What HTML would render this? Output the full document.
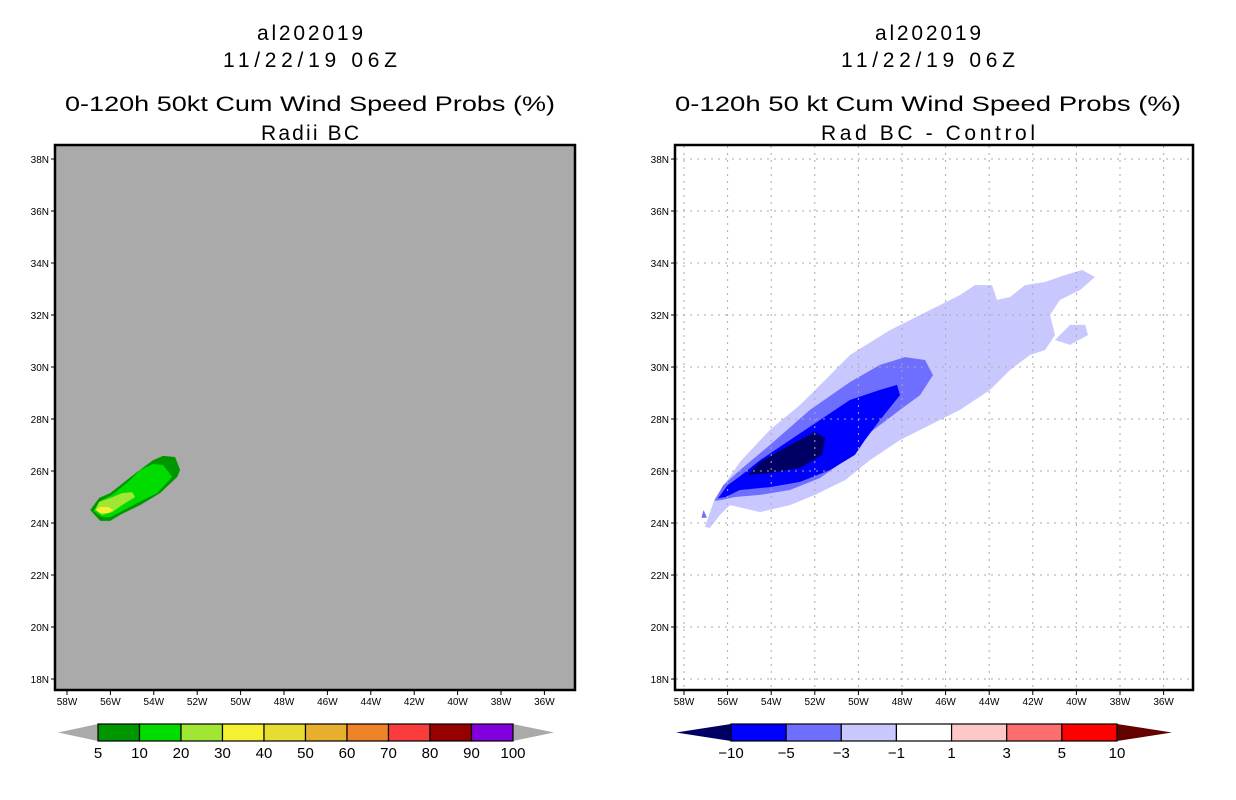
<!DOCTYPE html>
<html><head><meta charset="utf-8"><style>
html,body{margin:0;padding:0;background:#fff;}
svg{display:block;font-family:"Liberation Sans",sans-serif;}
</style></head><body>
<svg id="chart" width="1236" height="800" viewBox="0 0 1236 800">
  <g font-size="21" text-anchor="middle">
    <text x="310" y="40" textLength="106">al202019</text>
    <text x="310" y="67" textLength="174">11/22/19 06Z</text>
    <text x="310" y="111" textLength="490" lengthAdjust="spacingAndGlyphs">0-120h 50kt Cum Wind Speed Probs (%)</text>
    <text x="310" y="140" textLength="98">Radii BC</text>
  </g>
  <g font-size="21" text-anchor="middle">
    <text x="928" y="40" textLength="106">al202019</text>
    <text x="928" y="67" textLength="174">11/22/19 06Z</text>
    <text x="928" y="111" textLength="506" lengthAdjust="spacingAndGlyphs">0-120h 50 kt Cum Wind Speed Probs (%)</text>
    <text x="928" y="140" textLength="214">Rad BC - Control</text>
  </g>
  <g id="left"></g>
  <g id="right"></g>
  <g id="cbl"></g>
  <g id="cbr"></g>
</svg>
<script>
const NS="http://www.w3.org/2000/svg";
const lonTicks=[58,56,54,52,50,48,46,44,42,40,38,36];
const latTicks=[38,36,34,32,30,28,26,24,22,20,18];
const probDark=[[-56.93,24.5],[-56.52,24.96],[-56.01,25.15],[-54.77,25.96],[-54.03,26.42],[-53.57,26.58],[-53.02,26.54],[-52.79,26.04],[-52.92,25.77],[-53.71,25.15],[-54.63,24.69],[-55.55,24.31],[-56.01,24.08],[-56.47,24.08]];
const probGreen=[[-56.79,24.46],[-56.47,24.85],[-55.92,25.08],[-55.09,25.65],[-54.63,26.04],[-54.03,26.27],[-53.57,26.23],[-53.15,25.77],[-53.85,25.15],[-54.77,24.77],[-55.55,24.42],[-56.01,24.23],[-56.38,24.23]];
const probLight=[[-56.7,24.5],[-56.52,24.81],[-56.01,24.96],[-55.46,25.15],[-55.0,25.19],[-54.86,25.0],[-55.46,24.69],[-55.92,24.42],[-56.38,24.31]];
const probYellow=[[-56.66,24.5],[-56.47,24.62],[-56.1,24.62],[-55.87,24.5],[-56.1,24.38],[-56.47,24.38]];
const diffLight=[[-57.04,23.85],[-56.58,24.96],[-55.43,26.35],[-54.06,27.58],[-52.68,28.54],[-51.3,29.69],[-50.39,30.46],[-48.55,31.42],[-46.72,32.19],[-45.34,32.77],[-44.65,33.15],[-43.87,33.15],[-43.64,32.58],[-43.05,32.69],[-42.36,33.15],[-41.44,33.27],[-40.52,33.54],[-39.74,33.73],[-39.15,33.46],[-39.83,32.96],[-40.75,32.58],[-41.21,32.0],[-40.98,31.23],[-41.44,30.65],[-42.13,30.46],[-43.05,29.88],[-43.96,29.12],[-45.34,28.35],[-46.72,27.77],[-48.09,27.19],[-49.47,26.42],[-50.61,25.65],[-51.99,25.08],[-53.14,24.69],[-54.51,24.42],[-55.89,24.69],[-56.35,24.31],[-56.81,23.81]];
const diffLight2=[[-40.98,31.04],[-40.29,31.62],[-39.6,31.62],[-39.47,31.23],[-40.29,30.85]];
const diffMed=[[-56.6,24.85],[-56.2,25.45],[-55.43,26.04],[-54.06,27.0],[-52.22,28.35],[-50.39,29.42],[-49.01,30.08],[-47.86,30.38],[-46.94,30.27],[-46.58,29.69],[-47.17,28.92],[-48.09,28.35],[-49.01,27.77],[-49.93,27.19],[-50.61,26.42],[-51.76,25.73],[-53.14,25.27],[-54.51,25.08],[-55.66,25.0],[-56.2,24.9]];
const diffBlue=[[-56.44,24.95],[-56.0,25.45],[-55.43,25.8],[-54.51,26.42],[-53.14,27.19],[-51.76,27.96],[-50.39,28.73],[-49.01,29.12],[-48.23,29.31],[-48.09,28.92],[-49.01,27.96],[-49.7,27.19],[-50.16,26.62],[-51.3,26.04],[-52.68,25.58],[-54.06,25.38],[-55.43,25.27],[-56.1,25.0]];
const diffNavy=[[-55.06,25.85],[-54.51,26.35],[-53.14,27.0],[-51.99,27.5],[-51.53,27.27],[-51.67,26.62],[-52.68,26.12],[-54.06,25.92]];
const diffSmall=[[-57.1,24.5],[-56.95,24.2],[-57.2,24.2]];
const probLevels=["5","10","20","30","40","50","60","70","80","90","100"];
const probColors=["#009600","#00dc00","#a0e632","#f5f032","#e6dc32","#e6af2d","#f08228","#fa3c3c","#960000","#8200dc"];
const diffLevels=["-10","-5","-3","-1","1","3","5","10"];
const diffColors=["#0000ff","#6e6eff","#c8c8ff","#ffffff","#ffc8c8","#ff6e6e","#ff0000"];

function el(tag,attrs,parent){const e=document.createElementNS(NS,tag);for(const k in attrs)e.setAttribute(k,attrs[k]);parent.appendChild(e);return e;}

function panel(g,cfg){
  const X=lon=>cfg.x58+(lon+58)*cfg.pxDeg;
  const Y=lat=>159+(38-lat)*26;
  const bg=el('rect',{x:cfg.l,y:145,width:cfg.r-cfg.l,height:545,fill:cfg.bg},g);
  
  
  cfg.shapes.forEach(s=>{
    const p=el('polygon',{points:s.pts.map(q=>X(q[0]).toFixed(1)+','+Y(q[1]).toFixed(1)).join(' '),fill:s.c},g);
    
    
  });
  if(cfg.grid){
    lonTicks.forEach(v=>{const l=el('line',{x1:X(-v),x2:X(-v),y1:146,y2:689,stroke:'#aaa','stroke-dasharray':'2,5'},g);
      });
    latTicks.forEach(v=>{const l=el('line',{x1:cfg.l+1,x2:cfg.r-1,y1:Y(v),y2:Y(v),stroke:'#aaa','stroke-dasharray':'2,5'},g);
      });
  }
  const b=el('rect',{x:cfg.l,y:145,width:cfg.r-cfg.l,height:545,fill:'none',stroke:'#000','stroke-width':2.5},g);
  
  
  lonTicks.forEach(v=>{
    el('line',{x1:X(-v),x2:X(-v),y1:690,y2:695,stroke:'#000'},g);
    const t=el('text',{x:X(-v),y:705,'font-size':10,'text-anchor':'middle'},g);
    t.textContent=v+'W';
    
    
  });
  latTicks.forEach(v=>{
    el('line',{x1:cfg.l-4,x2:cfg.l,y1:Y(v),y2:Y(v),stroke:'#000'},g);
    const t=el('text',{x:cfg.l-6,y:Y(v)+4,'font-size':10,'text-anchor':'end'},g);
    t.textContent=v+'N';
    
    
  });
}
panel(document.getElementById('left'),{l:55,r:575,x58:67,pxDeg:21.7,bg:'#aaaaaa',grid:false,shapes:[
  {pts:probDark,c:'#009600',n:'prob-5-10'},{pts:probGreen,c:'#00dc00',n:'prob-10-20'},
  {pts:probLight,c:'#a0e632',n:'prob-20-30'},{pts:probYellow,c:'#f5f032',n:'prob-30-40'}]});
panel(document.getElementById('right'),{l:675,r:1193,x58:684,pxDeg:21.8,bg:'#ffffff',grid:true,shapes:[
  {pts:diffLight,c:'#c8c8ff',n:'diff-minus3-minus1'},{pts:diffLight2,c:'#c8c8ff',n:'diff-minus3-minus1-b'},
  {pts:diffMed,c:'#6e6eff',n:'diff-minus5-minus3'},{pts:diffBlue,c:'#0000ff',n:'diff-minus10-minus5'},
  {pts:diffNavy,c:'#000064',n:'diff-below-minus10'},{pts:diffSmall,c:'#6e6eff',n:'diff-small'}]});

function colorbar(g,cfg){
  const n=cfg.colors.length, w=(cfg.x1-cfg.x0)/n, y0=cfg.y0, y1=cfg.y1, ym=(y0+y1)/2;
  const lt=el('polygon',{points:`${cfg.tl},${ym} ${cfg.x0},${y0} ${cfg.x0},${y1}`,fill:cfg.lc},g);
  
  const rt=el('polygon',{points:`${cfg.tr},${ym} ${cfg.x1},${y0} ${cfg.x1},${y1}`,fill:cfg.rc},g);
  
  cfg.colors.forEach((c,i)=>{
    const r=el('rect',{x:cfg.x0+i*w,y:y0,width:w,height:y1-y0,fill:c,stroke:'#000','stroke-width':1.2},g);
    
    
  });
  cfg.labels.forEach((s,i)=>{
    const t=el('text',{x:cfg.x0+i*w,y:y1+17,'font-size':15,'text-anchor':'middle'},g);
    t.textContent=s.replace('-','\u2212');
    
    
  });
}
colorbar(document.getElementById('cbl'),{x0:98,x1:513,tl:58,tr:554,y0:724,y1:741,colors:probColors,labels:probLevels,lc:'#aaaaaa',rc:'#aaaaaa'});
colorbar(document.getElementById('cbr'),{x0:731,x1:1117,tl:676,tr:1172,y0:724,y1:741,colors:diffColors,labels:diffLevels,lc:'#000064',rc:'#640000'});
</script>
</body></html>
